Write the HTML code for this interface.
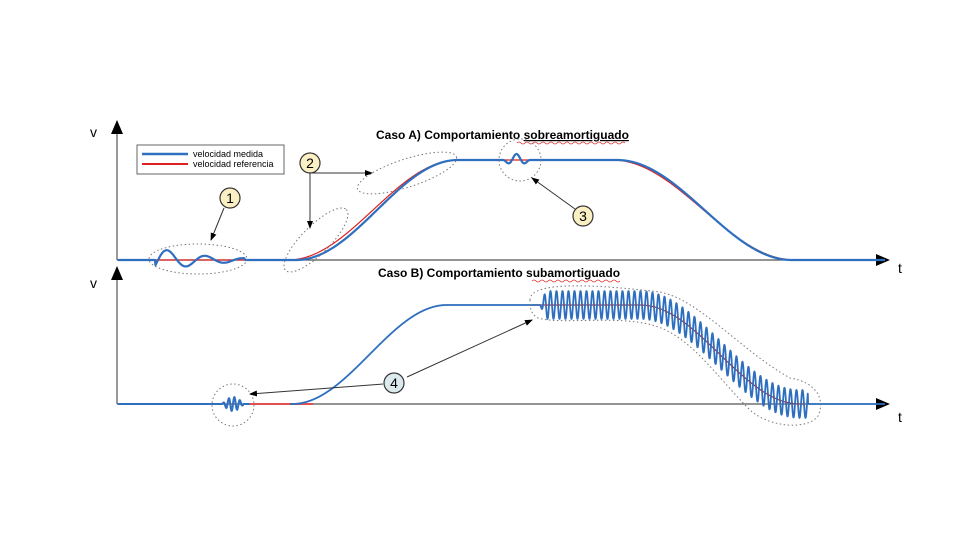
<!DOCTYPE html>
<html><head><meta charset="utf-8"><style>
html,body{margin:0;padding:0;background:#fff;}
svg{display:block;font-family:"Liberation Sans",sans-serif;}
</style></head><body>
<svg id="s" width="980" height="560" viewBox="0 0 980 560" xmlns="http://www.w3.org/2000/svg">
<defs>
<marker id="ah" markerWidth="8" markerHeight="8" refX="7" refY="4" orient="auto" markerUnits="userSpaceOnUse"><path d="M0,1 L8,4 L0,7 Z" fill="#000"/></marker>
<marker id="big" markerWidth="14" markerHeight="12" refX="12" refY="6" orient="auto" markerUnits="userSpaceOnUse"><path d="M0,0 L14,6 L0,12 Z" fill="#000"/></marker>
</defs>
<!-- axes top -->
<line x1="117" y1="260" x2="117" y2="122" stroke="#555" stroke-width="1.2" marker-end="url(#big)"/>
<line x1="117" y1="260" x2="888" y2="260" stroke="#555" stroke-width="1.2" marker-end="url(#big)"/>
<text x="90" y="137" font-size="14">v</text>
<text x="898" y="273" font-size="14">t</text>
<!-- axes bottom -->
<line x1="117" y1="404" x2="117" y2="268" stroke="#555" stroke-width="1.2" marker-end="url(#big)"/>
<line x1="117" y1="404" x2="888" y2="404" stroke="#555" stroke-width="1.2" marker-end="url(#big)"/>
<text x="90" y="288" font-size="14">v</text>
<text x="898" y="422" font-size="14">t</text>
<!-- titles -->
<text x="376" y="139" font-size="12" font-weight="bold">Caso A)  Comportamiento <tspan text-decoration="underline">sobreamortiguado</tspan></text>
<path d="M517,143 q2,-2 4,0 t4,0 t4,0 t4,0 t4,0 t4,0 t4,0 t4,0 t4,0 t4,0 t4,0 t4,0 t4,0 t4,0 t4,0 t4,0 t4,0 t4,0 t4,0 t4,0 t4,0 t4,0 t4,0 t4,0 t4,0 t4,0 t4,0" stroke="#d33" fill="none" stroke-width="0.8"/>
<text x="378" y="277" font-size="12" font-weight="bold">Caso B)  Comportamiento <tspan>subamortiguado</tspan></text>
<path d="M532,281 q2,-2 4,0 t4,0 t4,0 t4,0 t4,0 t4,0 t4,0 t4,0 t4,0 t4,0 t4,0 t4,0 t4,0 t4,0 t4,0 t4,0 t4,0 t4,0 t4,0 t4,0 t4,0 t4,0" stroke="#d33" fill="none" stroke-width="0.8"/>
<!-- legend -->
<rect x="137" y="145" width="147" height="29" fill="#fff" stroke="#666" stroke-width="1"/>
<line x1="142" y1="154" x2="188" y2="154" stroke="#2e6fc0" stroke-width="2.5"/>
<line x1="142" y1="164" x2="188" y2="164" stroke="#e02020" stroke-width="2"/>
<text x="193" y="157" font-size="9">velocidad medida</text>
<text x="193" y="167" font-size="9">velocidad referencia</text>
<g id="curves"></g>
<!-- dotted ellipses -->
<g fill="none" stroke="#777" stroke-width="1" stroke-dasharray="1.5,2.5">
<ellipse cx="198" cy="259" rx="49" ry="15"/>
<ellipse cx="316" cy="240" rx="43" ry="14" transform="rotate(-45 316 240)"/>
<ellipse cx="407" cy="173" rx="52" ry="14" transform="rotate(-18 407 173)"/>
<circle cx="520" cy="160" r="21"/>
<circle cx="233" cy="405" r="21"/>
<path d="M530,300 C530,280 600,285 660,292 C700,300 740,350 790,378 C815,382 826,398 818,416 C808,430 770,428 750,410 C715,375 690,335 652,325 C615,315 560,325 538,318 C530,314 530,306 530,300 Z"/>
</g>
<!-- arrows -->
<g stroke="#333" stroke-width="1" fill="none" marker-end="url(#ah)">
<line x1="224" y1="208" x2="211" y2="240"/>
<polyline points="310,173 372,173"/>
<polyline points="310,173 310,228"/>
<line x1="575" y1="209" x2="532" y2="178"/>
<line x1="383" y1="384" x2="250" y2="394"/>
<line x1="407" y1="377" x2="532" y2="320"/>
</g>
<!-- numbered circles -->
<g font-size="14" text-anchor="middle" stroke-width="1.2">
<circle cx="230" cy="198" r="10" fill="#fbf0c4" stroke="#333"/><text x="230" y="203">1</text>
<circle cx="310" cy="163" r="10" fill="#fbf0c4" stroke="#333"/><text x="310" y="168">2</text>
<circle cx="583" cy="216" r="10" fill="#fbf0c4" stroke="#333"/><text x="583" y="221">3</text>
<circle cx="394" cy="383" r="10" fill="#dceaee" stroke="#333"/><text x="394" y="388">4</text>
</g>
</svg>
<script>
(function(){
var g=document.getElementById('curves'),NS='http://www.w3.org/2000/svg';
function sm(u){u=Math.max(0,Math.min(1,u));return 0.5-0.5*Math.cos(Math.PI*u);}
function path(pts,col,w){var p=document.createElementNS(NS,'path');var d='M'+pts.map(function(q){return q[0].toFixed(1)+','+q[1].toFixed(1)}).join(' L');p.setAttribute('d',d);p.setAttribute('fill','none');p.setAttribute('stroke',col);p.setAttribute('stroke-width',w);p.setAttribute('stroke-linejoin','round');g.appendChild(p);}
// top reference
function refA(x){return 260-100*sm((x-288)/170)+100*sm((x-612)/183);}
var r=[],b=[];
for(var x=118;x<=885;x+=0.5){r.push([x,refA(x)]);
 var y=260-100*sm((x-296)/162)+100*sm((x-617)/175);
 if(x>155&&x<245){var t=x-158;y+=-12*Math.exp(-t/45)*Math.sin(2*Math.PI*t/38);}
 if(x>503&&x<530){var t=x-503;y+=5*Math.sin(2*Math.PI*t/18)*Math.sin(Math.PI*t/27)*1.2;}
 b.push([x,y]);}
path(r,'#e02020',1.2);path(b,'#2e6fc0',2.2);
// bottom
function refB(x){return 305+99*sm((x-640)/160);}
var rr=[];for(var x=250;x<=313;x+=1)rr.push([x,404]);path(rr,'#e05050',2);
var rb=[];for(var x=530;x<=805;x+=1)rb.push([x,refB(x)]);path(rb,'#c02020',1.2);
var bb=[];for(var x=118;x<=250;x+=0.3){var y=404;if(x>222&&x<244){var t=x-222;y+=-7*Math.sin(2*Math.PI*t/5.5)*Math.sin(Math.PI*t/22);}bb.push([x,y]);}
path(bb,'#2e6fc0',2);
var bc=[];for(var x=290;x<=885;x+=0.3){var y;
 if(x<540)y=404-99*sm((x-292)/155);
 else if(x<808){var t=x-540;var a=14*Math.min(1,t/6);y=refB(x)+a*Math.sin(2*Math.PI*t/6);}
 else y=404;
 bc.push([x,y]);}
path(bc,'#2e6fc0',1.8);
})();
</script>
</body></html>
